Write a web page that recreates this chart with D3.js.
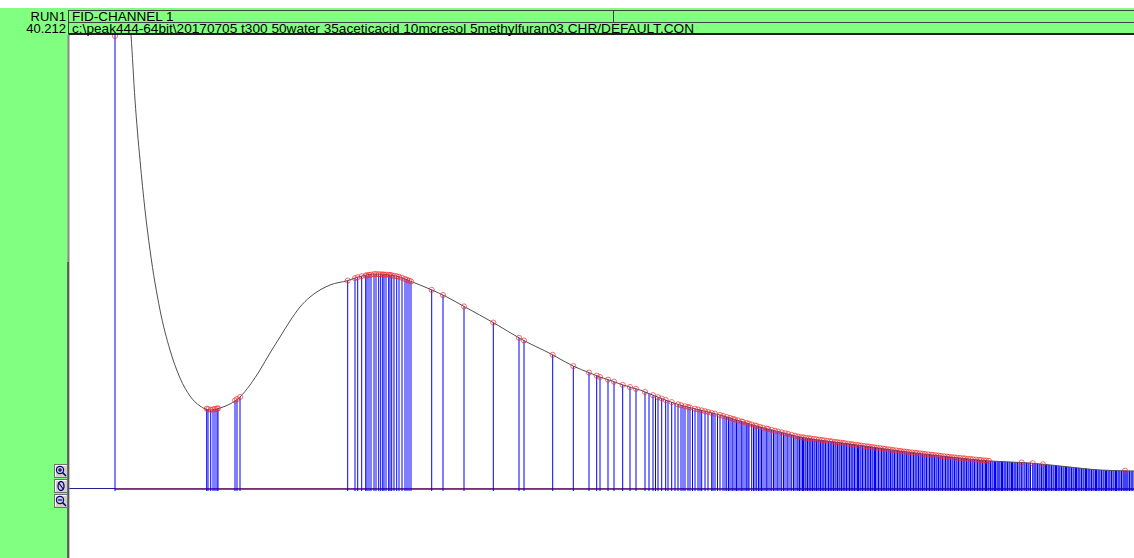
<!DOCTYPE html>
<html>
<head>
<meta charset="utf-8">
<script src="https://cdn.jsdelivr.net/npm/d3@7"></script>
<style>
  body { margin: 0; background: #fff; }
  text { font-family: "Liberation Sans", Arial, sans-serif; }
</style>
</head>
<body>
<script>
// signal trace (time in s, signal in mV)
var traceTime = [46, 58, 62, 66, 71, 76, 81, 91, 101, 111, 121, 131, 141, 151, 161, 171, 181, 191, 201, 211,
                 221, 231, 241, 251, 261, 279, 291, 306, 321, 331, 341, 363, 376, 396, 425, 452, 484, 504, 521, 531,
                 543, 554, 571, 591, 611, 631, 651, 671, 691, 711, 731, 781, 831, 881, 921, 961, 991, 1031, 1065];
var traceSignal = [60, 50, 45.4, 38.9, 32.9, 27.9, 23.9, 17.9, 13.9, 11.1, 9.3, 8.3, 7.9, 8.1, 8.5, 9.2, 10.4, 11.9, 13.6, 15.2,
                   16.8, 18.2, 19.2, 19.9, 20.4, 20.85, 21.25, 21.5, 21.4, 21.2, 20.8, 19.9, 19.3, 18.2, 16.6, 15.0, 13.4, 12.3, 11.6, 11.2,
                   10.8, 10.4, 9.9, 9.1, 8.4, 7.9, 7.4, 6.8, 6.2, 5.7, 5.2, 4.5, 3.8, 3.2, 2.8, 2.6, 2.3, 1.9, 1.8];

// integrated peaks (marked with a circle)
var markedPeaks = [46,
  137.7, 139, 141.7, 144, 146, 148, 149, 166, 168, 171,
  278.7, 286, 288.7, 292.7, 296.7, 298, 300, 302, 305, 307, 309.7, 311.7, 313.7, 315, 317, 319.7, 321, 322.7, 325, 327.7,
  330, 333, 336, 338, 340, 342, 362.7, 374,
  395, 424.3, 450, 455, 483.7, 504.3, 520, 527.7, 531, 539, 545, 553.7, 561, 567, 576, 584, 589, 592.7, 596.7, 602.7,
  609, 612, 616, 619, 621, 626, 629, 632.7, 636, 639, 642.7, 646, 651, 654, 657.7, 661, 664, 666, 669, 672.7, 674, 677.7,
  680, 682.7, 686, 687.7, 691, 694, 697.7, 699, 702.7, 706, 709, 712.7, 716, 719, 722.7, 726, 729,
  732, 734.5, 737, 740, 742, 745, 747.5, 750, 753, 755, 758, 761, 763, 766, 768.5, 771, 774, 776, 779, 782, 784, 787,
  789.5, 792, 795, 798, 800, 803, 805.5, 808, 811, 814, 816, 819, 821.5, 824, 827, 830, 832, 835, 837.5, 840, 843, 846,
  848, 851, 853.5, 856, 859, 862, 864, 867, 869.5, 872, 875, 878, 880, 883, 885.5, 888, 891, 894, 896, 899, 901.5, 904,
  907, 910, 912, 915, 917.5, 920, 952.7, 963.7, 974, 1056];
// detected slices without a circle
var plainPeaks = [580, 586.5, 599, 606, 614, 623.5, 631, 644, 648.5, 656, 659.5, 663, 667.5, 671, 676, 679, 684.5, 689.5,
  692.5, 696, 701, 704.5, 708, 711, 714.5, 718, 721, 724.5, 728, 730.5, 733.5, 736, 738.5, 741, 743.5, 746, 749, 751.5,
  754, 756.5, 759.5, 762, 764.5, 767, 770, 772.5, 775, 777.5, 780.5, 783, 785.5, 788.5, 791, 793.5, 796.5, 799, 801.5,
  804, 806.5, 809.5, 812.5, 815, 817.5, 820, 823, 825.5, 828.5, 831, 833.5, 836, 839, 841.5, 844.5, 847, 849.5, 852,
  855, 857.5, 860.5, 863, 865.5, 868, 871, 873.5, 876.5, 879, 881.5, 884, 887, 889.5, 892.5, 895, 897.5, 900, 903,
  905.5, 908.5, 911, 913.5, 916.5, 919, 921.5,
  923, 924, 925.5, 926.5, 928, 929, 930, 931, 932.5, 933.5, 935, 936, 937, 938.5, 940, 941, 942.5, 943.5, 945, 946,
  947, 948.5, 950, 951, 953, 955, 956, 957.5, 959, 960, 961.5, 965, 966, 967, 968.5, 970, 971, 972.5, 975, 976.5,
  977.5, 979, 980, 981, 982.5, 984, 985, 986.5, 987.5, 989, 990, 991, 992.5, 994, 995, 996.5, 997.5, 999, 1000, 1001,
  1002.5, 1004, 1005, 1006.5, 1007.5, 1009, 1010, 1011, 1012.5, 1014, 1015, 1016.5, 1017.5, 1019, 1020, 1021, 1022.5,
  1024, 1025, 1026.5, 1027.5, 1029, 1030, 1031, 1032.5, 1034, 1035, 1036.5, 1037.5, 1039, 1040, 1041, 1042.5, 1044,
  1045, 1046.5, 1047.5, 1049, 1050, 1051, 1052.5, 1054, 1055, 1057, 1058, 1059, 1060.5, 1062, 1063, 1064];

var runLabel = "RUN1";
var fullScale = "40.212";
var channelLabel = "FID-CHANNEL 1";
var fileLabel = "c:\\peak444-64bit\\20170705 t300 50water 35aceticacid 10mcresol 5methylfuran03.CHR/DEFAULT.CON";

var w = 1134, h = 558;
var plotLeft = 69, plotTop = 35;
var green = "#80ff80";

var svg = d3.select("body").append("svg").attr("width", w).attr("height", h);

// scales
var xScale = d3.scaleLinear().domain([0, 1065]).range([plotLeft, w]);
var yScale = d3.scaleLinear().domain([0, 45.4]).range([489, plotTop]);

var trace = traceTime.map(function(t, i) { return [t, traceSignal[i]]; });
var bis = d3.bisector(function(d) { return d[0]; }).left;
function signalAt(t) {
  var i = bis(trace, t);
  if (i <= 0) return trace[0][1];
  if (i >= trace.length) return trace[trace.length - 1][1];
  var a = trace[i - 1], b = trace[i];
  return a[1] + (b[1] - a[1]) * (t - a[0]) / (b[0] - a[0]);
}

// background panels
svg.append("rect").attr("x", 0).attr("y", 8).attr("width", plotLeft - 1).attr("height", h - 8).attr("fill", green);
svg.append("rect").attr("x", plotLeft - 1).attr("y", 8).attr("width", w - plotLeft + 1).attr("height", 27).attr("fill", green);

svg.append("defs").append("clipPath").attr("id", "plot")
  .append("rect").attr("x", plotLeft).attr("y", plotTop).attr("width", w - plotLeft).attr("height", h - plotTop);

var plot = svg.append("g").attr("clip-path", "url(#plot)");

// left border
svg.append("line").attr("x1", 68.5).attr("x2", 68.5).attr("y1", plotTop).attr("y2", h)
  .attr("stroke", "#888").attr("stroke-width", 2);
svg.append("line").attr("x1", 68).attr("x2", 68).attr("y1", 262).attr("y2", h)
  .attr("stroke", "#222").attr("stroke-width", 1);

// baseline
plot.append("line").attr("x1", plotLeft).attr("x2", xScale(46)).attr("y1", 488.5).attr("y2", 488.5)
  .attr("stroke", "#202090");
plot.append("line").attr("x1", xScale(46)).attr("x2", w).attr("y1", 488.5).attr("y2", 488.5)
  .attr("stroke", "#7a3070");
plot.append("line").attr("x1", xScale(46)).attr("x2", w).attr("y1", 489.5).attr("y2", 489.5)
  .attr("stroke", "#5050ff");

// peak drop lines
var allPeaks = markedPeaks.concat(plainPeaks);
plot.selectAll("line.drop")
  .data(allPeaks)
  .enter()
  .append("line")
  .attr("class", "drop")
  .attr("x1", function(d) { return xScale(d); })
  .attr("x2", function(d) { return xScale(d); })
  .attr("y1", 491)
  .attr("y2", function(d) { return yScale(signalAt(d)); })
  .attr("stroke", "#0000ff")
  .attr("stroke-width", 1);

// trace
var line = d3.line()
  .x(function(d) { return xScale(d[0]); })
  .y(function(d) { return yScale(d[1]); })
  .curve(d3.curveMonotoneX);
plot.append("path")
  .datum(trace)
  .attr("d", line)
  .attr("fill", "none")
  .attr("stroke", "#505050")
  .attr("stroke-width", 1);

// peak markers
plot.selectAll("circle")
  .data(markedPeaks)
  .enter()
  .append("circle")
  .attr("cx", function(d) { return xScale(d); })
  .attr("cy", function(d) { return Math.max(yScale(signalAt(d)), plotTop + 1); })
  .attr("r", 2.6)
  .attr("fill", "none")
  .attr("stroke", "#ff2020")
  .attr("stroke-opacity", 0.65)
  .attr("stroke-width", 1);

// header box
svg.append("rect").attr("x", 68.5).attr("y", 10.5).attr("width", w).attr("height", 23)
  .attr("fill", "none").attr("stroke", "#404040");
svg.append("line").attr("x1", 68.5).attr("x2", w).attr("y1", 22.5).attr("y2", 22.5).attr("stroke", "#404040");
svg.append("line").attr("x1", 68.5).attr("x2", w).attr("y1", 34).attr("y2", 34).attr("stroke", "#202020").attr("stroke-width", 2);
svg.append("line").attr("x1", 613.5).attr("x2", 613.5).attr("y1", 10.5).attr("y2", 22.5).attr("stroke", "#404040");

svg.append("text").attr("x", 66).attr("y", 21).attr("text-anchor", "end").attr("font-size", "13px").text(runLabel);
svg.append("text").attr("x", 66).attr("y", 33).attr("text-anchor", "end").attr("font-size", "13px").text(fullScale);
svg.append("text").attr("x", 72).attr("y", 21).attr("font-size", "13.5px").text(channelLabel);
svg.append("text").attr("x", 72).attr("y", 33).attr("font-size", "13.5px")
  .attr("textLength", 622).attr("lengthAdjust", "spacingAndGlyphs").text(fileLabel);

// zoom buttons
var buttons = svg.append("g");
[464, 479, 494].forEach(function(by, i) {
  var b = buttons.append("g").attr("transform", "translate(54," + by + ")");
  b.append("rect").attr("x", 0.5).attr("y", 0.5).attr("width", 13).attr("height", 13)
    .attr("fill", "#d4d0c8").attr("stroke", "#707070");
  b.append("path").attr("d", "M1.5,12.5V1.5H12.5").attr("fill", "none").attr("stroke", "#fff");
  if (i === 1) {
    b.append("ellipse").attr("cx", 7).attr("cy", 7).attr("rx", 3).attr("ry", 4.5)
      .attr("fill", "none").attr("stroke", "#000080").attr("stroke-width", 1.3);
    b.append("line").attr("x1", 4.5).attr("y1", 3.5).attr("x2", 9.5).attr("y2", 10.5)
      .attr("stroke", "#000080").attr("stroke-width", 1.2);
  } else {
    b.append("circle").attr("cx", 6).attr("cy", 6).attr("r", 3.6)
      .attr("fill", "none").attr("stroke", "#000080").attr("stroke-width", 1.2);
    b.append("line").attr("x1", 8.5).attr("y1", 8.5).attr("x2", 12).attr("y2", 12)
      .attr("stroke", "#000080").attr("stroke-width", 1.6);
    b.append("line").attr("x1", 4).attr("y1", 6).attr("x2", 8).attr("y2", 6)
      .attr("stroke", "#000080").attr("stroke-width", 1.2);
    if (i === 0) {
      b.append("line").attr("x1", 6).attr("y1", 4).attr("x2", 6).attr("y2", 8)
        .attr("stroke", "#000080").attr("stroke-width", 1.2);
    }
  }
});
</script>
</body>
</html>
